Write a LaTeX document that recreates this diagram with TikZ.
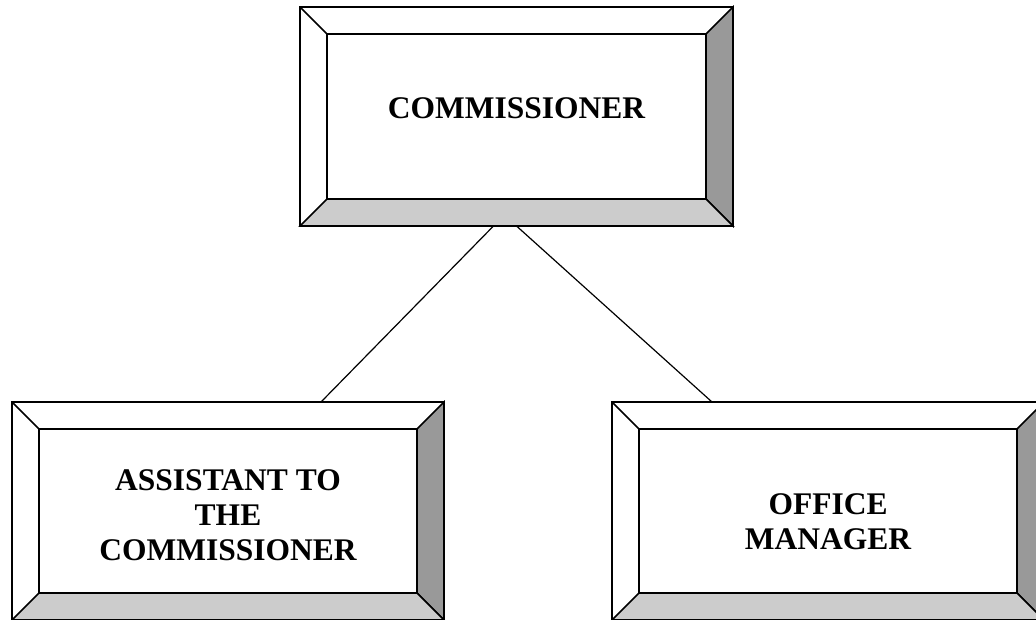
\documentclass[tikz,border=0pt]{standalone}
\usepackage{fontspec}
\setmainfont{Liberation Serif}
\usetikzlibrary{calc}

\definecolor{sidegray}{gray}{0.6}
\definecolor{basegray}{gray}{0.8}

\tikzset{
  frame/.style={draw=black,line width=1.5pt,fill=white,minimum width=432pt,minimum height=218pt,outer sep=0pt,inner sep=0pt},
  title/.style={font=\fontsize{31.5}{35}\selectfont\bfseries,align=center},
  link/.style={line width=1.2pt}
}

% bevel of a frame node: white top and left, grey right and bottom
\newcommand{\bevel}[1]{%
\coordinate (#1-nw) at ($(#1.north west)+(27,27)$);
\coordinate (#1-ne) at ($(#1.north east)+(-27,27)$);
\coordinate (#1-se) at ($(#1.south east)+(-27,-27)$);
\coordinate (#1-sw) at ($(#1.south west)+(27,-27)$);
\draw[line width=1.5pt,line join=miter,fill=sidegray] (#1.north east) -- (#1.south east) -- (#1-se) -- (#1-ne) -- cycle;
\draw[line width=1.5pt,line join=miter,fill=basegray] (#1.south west) -- (#1.south east) -- (#1-se) -- (#1-sw) -- cycle;
\draw[line width=1.5pt] (#1.north west) -- (#1-nw);
\draw[line width=1.5pt] (#1-nw) rectangle (#1-se);
\draw[line width=1.5pt] (#1.north west) rectangle (#1.south east);
}

\begin{document}
\begin{tikzpicture}[x=1pt,y=-1pt]
\useasboundingbox (0,0) rectangle (1036,620);
\clip (0,0) rectangle (1036,620);

\node[frame,minimum width=433pt,minimum height=219pt] (comm) at (516.5,116.5) {};
\node[frame] (asst) at (228,511) {};
\node[frame] (office) at (828,511) {};

\bevel{comm}
\bevel{asst}
\bevel{office}

\node[title] (comm-t) at ($(comm.center)+(0,-8)$) {COMMISSIONER};
\node[title] (asst-t) at ($(asst.center)+(0,4)$) {ASSISTANT TO\\THE\\COMMISSIONER};
\node[title] (office-t) at ($(office.center)+(0,11)$) {OFFICE\\MANAGER};

\coordinate (c1) at ($(comm.south)+(-23,0)$);
\coordinate (c2) at (comm.south);
\coordinate (a1) at ($(asst.north)+(93,0)$);
\coordinate (o1) at ($(office.north)+(-116,0)$);

\draw[link] (c1) -- (a1);
\draw[link] (c2) -- (o1);

\end{tikzpicture}
\end{document}
